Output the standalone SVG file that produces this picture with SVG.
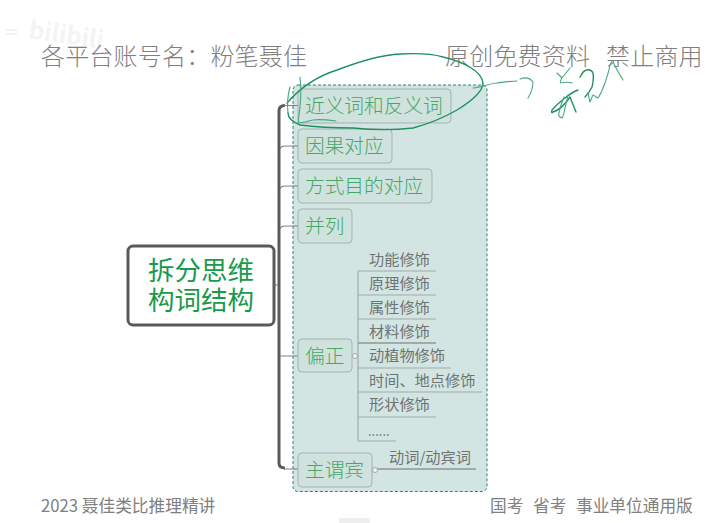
<svg xmlns="http://www.w3.org/2000/svg" width="705" height="523" viewBox="0 0 705 523">
<style>
text{font-family:"Noto Sans CJK SC","Liberation Sans",sans-serif}
.hd{font-size:24px;fill:#7f7f7f;font-weight:300;letter-spacing:.2px}
.ft{font-size:16.7px;fill:#808080}
.tp{fill:#d0e2de;stroke:#a3b3af;stroke-width:1}
.tt{font-size:19.7px;fill:#45a866;font-weight:300}
.sb{font-size:15.2px;fill:#6f7472}
.ln{fill:none;stroke:#a2aaa7;stroke-width:1.2}
.tr{fill:none;stroke:#5a5a5a;stroke-width:3}
.tk{fill:none;stroke:#808080;stroke-width:1.2}
.ink{fill:none;stroke:#4aa67f;stroke-width:1.1;stroke-linecap:round;stroke-linejoin:round}
.ink2{fill:none;stroke:#1f9160;stroke-width:1.4;stroke-linecap:round;stroke-linejoin:round}
.dot{fill:#eef3f1;stroke:#a2aaa7;stroke-width:1}
</style>
<rect width="705" height="523" fill="#fff"/>
<text x="28" y="38" font-size="24" font-weight="700" fill="#f4f4f4" transform="rotate(8 28 38)">bilibili</text>
<path d="M6 30H18M6 34H18" stroke="#efefef" stroke-width="2" stroke-dasharray="3 1" fill="none"/>
<text class="hd" x="41" y="65">各平台账号名：粉笔聂佳</text>
<text class="hd" x="445" y="65">原创免费资料</text>
<text class="hd" x="606" y="65">禁止商用</text>
<rect id="boundary" x="293" y="85" width="194" height="406.500" rx="5" fill="#d3e5e3" stroke="#2f7f78" stroke-width="1" stroke-dasharray="3 2"/>
<g id="connectors">
<path class="tr" d="M285 105.500Q279 105.500 279 111V463Q279 468 285 468"/>
<path class="tk" d="M274 285H278M284 105.500H298M280 149Q281 146 285 146H298M280 189Q281 186 285 186H298M280 229Q281 226 285 226H298M280 356H298M284 469H298"/>
<path class="ln" d="M358 271H436M358 271V441M358 295H436M358 319H436M358 368H451M358 392H482M358 417H436M358 441H396M353 356H358"/>
<path d="M358 343H436" fill="none" stroke="#8f9694" stroke-width="1.6"/>
<path d="M373 469H476" fill="none" stroke="#8f9694" stroke-width="1.5"/>
</g>
<g id="root"><rect x="128" y="246" width="146" height="79" rx="5" fill="#fff" stroke="#5a5a5a" stroke-width="3"/><text text-anchor="middle" font-size="26.500" font-weight="400" fill="#1a9a4a"><tspan x="201" y="280">拆分思维</tspan><tspan x="201" y="310">构词结构</tspan></text></g>
<g id="n1"><rect class="tp" x="298" y="89" width="153" height="34" rx="4"/><text class="tt" x="305" y="113">近义词和反义词</text></g>
<g id="n2"><rect class="tp" x="298" y="129" width="94" height="34" rx="4"/><text class="tt" x="305" y="153">因果对应</text></g>
<g id="n3"><rect class="tp" x="298" y="169" width="134" height="34" rx="4"/><text class="tt" x="305" y="193">方式目的对应</text></g>
<g id="n4"><rect class="tp" x="298" y="209" width="54" height="34" rx="4"/><text class="tt" x="305" y="233">并列</text></g>
<g id="n5"><rect class="tp" x="298" y="339" width="54" height="33" rx="4"/><text class="tt" x="305" y="363">偏正</text><circle class="dot" cx="355" cy="356" r="2.500"/></g>
<g id="n6"><rect class="tp" x="298" y="453" width="74" height="34" rx="4"/><text class="tt" x="305" y="477">主谓宾</text><circle class="dot" cx="375" cy="470" r="2.500"/></g>
<g id="s1"><text class="sb" x="369" y="265">功能修饰</text></g>
<g id="s2"><text class="sb" x="369" y="289">原理修饰</text></g>
<g id="s3"><text class="sb" x="369" y="313">属性修饰</text></g>
<g id="s4"><text class="sb" x="369" y="337">材料修饰</text></g>
<g id="s5"><text class="sb" x="369" y="361">动植物修饰</text></g>
<g id="s6"><text class="sb" x="369" y="386">时间、地点修饰</text></g>
<g id="s7"><text class="sb" x="369" y="410">形状修饰</text></g>
<g id="s8"><text class="sb" x="368" y="436" style="font-size:13px">......</text></g>
<g id="s9"><text class="sb" x="389" y="463">动词/动宾词</text></g>
<g id="ink">
<path class="ink2" d="M287 103C300 88 318 76 337 70C358 62 380 55 400 54C420 53 433 54 443 57C465 62 482 72 483 83C483 92 470 102 457 110C443 118 428 124 413 128C395 130 373 130 353 128C335 128 315 127 300 125C293 122 288 118 288 113"/>
<path class="ink" d="M288 113C287 104 288 94 290 87M300 77C302 92 300 110 298 123C303 123 308 121 313 120C320 119 328 120 336 121"/>
<path class="ink" d="M473 88C482 87 488 84 497 83C505 82 511 81 517 81M520 79C525 77 530 78 533 82C533 88 531 93 528 98"/>
<path class="ink" d="M557 73L562 78L570 68L562 78C560 81 560 83 561 83C565 82 569 82 572 83"/>
<path class="ink2" d="M578 90C570 93 558 103 552 110C551 113 552 113 553 112C560 110 566 103 570 97C572 102 574 107 576 112"/>
<path class="ink" d="M568 95C567 100 566 104 565 108C564 112 564 116 562 118C559 117 558 115 559 113C560 107 562 102 564 97"/>
<path class="ink2" d="M580 77C582 73 585 70 587 70C590 69 592 71 593 73C594 78 593 83 592 87C590 91 588 94 585 97"/>
<path class="ink" d="M588 93C589 96 589 100 590 102C591 100 592 97 593 95C595 95 596 98 598 98C601 94 603 88 605 83C607 77 609 71 610 65C612 60 613 58 614 64C617 70 620 75 623 80"/>
</g>
<text class="ft" x="41" y="512">2023 聂佳类比推理精讲</text>
<text class="ft" x="490" y="512">国考</text>
<text class="ft" x="533" y="512">省考</text>
<text class="ft" x="576" y="512">事业单位通用版</text>
<rect x="339" y="518" width="31" height="5" fill="#eeeeee"/>
</svg>
